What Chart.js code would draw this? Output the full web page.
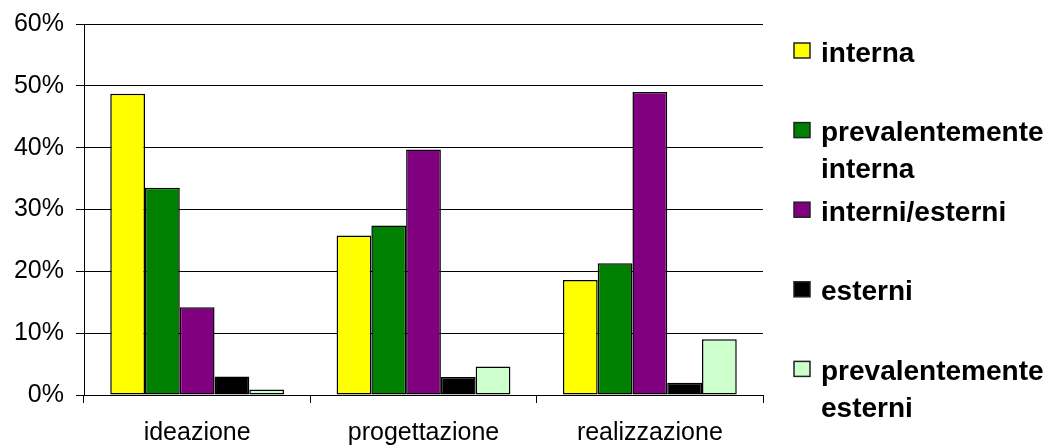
<!DOCTYPE html>
<html>
<head>
<meta charset="utf-8">
<title>Fasi e modalità</title>
<script src="https://cdn.jsdelivr.net/npm/chart.js@4.4.1/dist/chart.umd.min.js"></script>
<style>
  html, body { margin: 0; padding: 0; background: #fff; }
  #wrap { position: relative; width: 1052px; height: 448px; }
</style>
</head>
<body>
<div id="wrap"><canvas id="chart"></canvas></div>
<script>
// Fasi del processo
const categories = ['ideazione', 'progettazione', 'realizzazione'];

// Quote percentuali per modalità
const seriesLabels = ['interna', 'prevalentemente interna', 'interni/esterni', 'esterni', 'prevalentemente esterni'];
const interna = [48.7, 25.8, 18.6];
const prevalentementeInterna = [33.5, 27.4, 21.3];
const interniEsterni = [14.2, 39.7, 49.0];
const esterni = [3.0, 2.9, 2.0];
const prevalentementeEsterni = [0.9, 4.6, 9.0];

const seriesColors = ['#FFFF00', '#008000', '#800080', '#000000', '#CCFFCC'];
const yTicks = [0, 10, 20, 30, 40, 50, 60];

const FONT = '"Liberation Sans", Arial, Helvetica, sans-serif';

// Legenda a destra con testo a capo
const sideLegend = {
  id: 'sideLegend',
  afterDraw(chart) {
    const ctx = chart.ctx;
    ctx.save();
    ctx.font = 'bold 28px ' + FONT;
    ctx.textBaseline = 'alphabetic';
    ctx.textAlign = 'left';
    const textX = 821;
    const maxW = chart.width - textX - 2;
    chart.data.datasets.forEach((ds, i) => {
      const top = 43 + i * 79.6;
      ctx.fillStyle = ds.backgroundColor;
      ctx.fillRect(794, top, 16, 15);
      ctx.strokeStyle = '#222';
      ctx.lineWidth = 1.5;
      ctx.strokeRect(794, top, 16, 15);
      // a capo per parole
      const words = ds.label.split(' ');
      const lines = [];
      let cur = '';
      words.forEach(w => {
        const t = cur ? cur + ' ' + w : w;
        if (cur && ctx.measureText(t).width > maxW) { lines.push(cur); cur = w; }
        else cur = t;
      });
      if (cur) lines.push(cur);
      ctx.fillStyle = '#000';
      lines.forEach((ln, k) => ctx.fillText(ln, textX, top + 18.5 + k * 37));
    });
    ctx.restore();
  }
};

const seriesValues = [interna, prevalentementeInterna, interniEsterni, esterni, prevalentementeEsterni];

new Chart(document.getElementById('chart'), {
  type: 'bar',
  data: {
    labels: categories,
    datasets: seriesValues.map((vals, i) => ({
      label: seriesLabels[i],
      data: vals,
      backgroundColor: seriesColors[i],
      borderColor: '#000',
      borderWidth: 1.5,
      borderSkipped: false,
      categoryPercentage: 0.768,
      barPercentage: 1.0
    }))
  },
  options: {
    responsive: true,
    maintainAspectRatio: false,
    animation: false,
    devicePixelRatio: 1,
    layout: { padding: { left: 0, right: 289, top: 0, bottom: 0 } },
    plugins: { legend: { display: false }, tooltip: { enabled: false } },
    scales: {
      x: {
        afterFit: s => { s.height = 53; },
        grid: { display: true, drawOnChartArea: false, drawTicks: true, tickLength: 8, color: '#000', lineWidth: 1, offset: true },
        border: { display: true, color: '#000', width: 1 },
        ticks: { color: '#000', font: { family: FONT, size: 25 }, padding: 15, maxRotation: 0 }
      },
      y: {
        min: 0,
        max: 60,
        afterFit: s => { s.width = 84; s.paddingTop = 24; },
        afterBuildTicks: s => { s.ticks = yTicks.map(v => ({ value: v })); },
        grid: { color: '#000', lineWidth: 1, tickLength: 8, drawTicks: true },
        border: { display: true, color: '#000', width: 1 },
        ticks: { color: '#000', font: { family: FONT, size: 25 }, padding: 12, callback: v => v + '%' }
      }
    }
  },
  plugins: [sideLegend]
});
</script>
</body>
</html>
